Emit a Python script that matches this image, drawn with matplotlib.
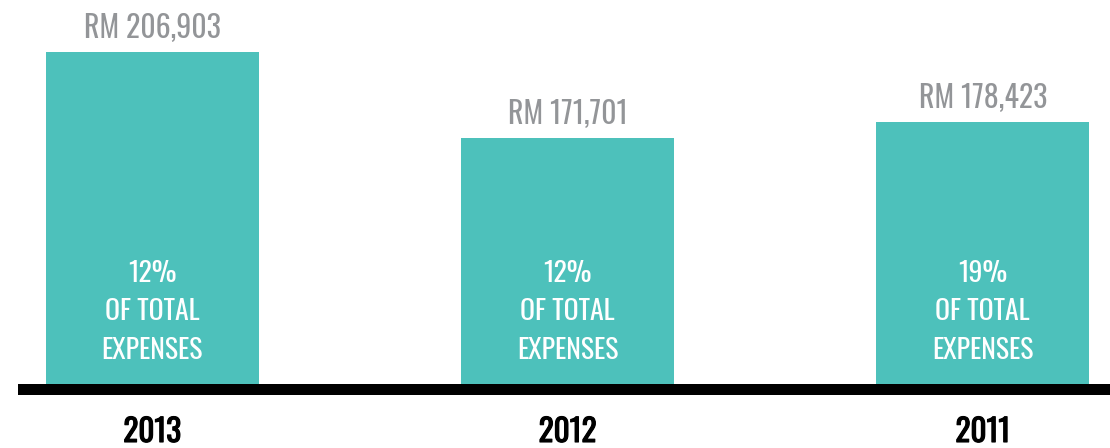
import matplotlib
matplotlib.use("Agg")
import matplotlib.pyplot as plt
from matplotlib import patheffects as pe

years = ["2013", "2012", "2011"]
values = [206903, 171701, 178423]
value_labels = ["RM 206,903", "RM 171,701", "RM 178,423"]
pct_labels = ["12%", "12%", "19%"]

FONT = ["Oswald", "DejaVu Sans"]

TEAL = "#4DC1BB"
GRAY = "#939598"

W, H = 1110, 448
fig = plt.figure(figsize=(W / 100, H / 100), dpi=100)
ax = fig.add_axes([0, 0, 1, 1])

# layout constants
base = 71534          # value at the baseline
upp = 407.2           # value units per pixel
ax.set_ylim(base - 64 * upp, base + 384 * upp)
x = list(range(len(years)))
ax.set_xlim(-152.5 / 416, 2 + 127.5 / 416)

ax.bar(x, [v - base for v in values], bottom=base, width=213 / 416,
       color=TEAL, edgecolor="none", zorder=2)
ax.axhspan(base - 11 * upp, base, xmin=18 / W, xmax=1, color="black", zorder=3, lw=0)

for xi, v, lab, pct, yr in zip(x, values, value_labels, pct_labels, years):
    ax.annotate(lab, (xi, v), xytext=(0, 14), textcoords="offset pixels",
                ha="center", va="baseline", color=GRAY, fontsize=21.5,
                family=FONT)
    for off, line in zip([102, 63.5, 25], [pct, "OF TOTAL", "EXPENSES"]):
        ax.annotate(line, (xi, base), xytext=(0, off), textcoords="offset pixels",
                    ha="center", va="baseline", color="white", fontsize=20,
                    family=FONT, zorder=4)
    ax.annotate(yr, (xi, base), xytext=(0, -58), textcoords="offset pixels",
                ha="center", va="baseline", color="black", fontsize=22.5,
                family=FONT,
                path_effects=[pe.withStroke(linewidth=0.8, foreground="black")])

ax.axis("off")
fig.savefig("out.png", dpi=100)
